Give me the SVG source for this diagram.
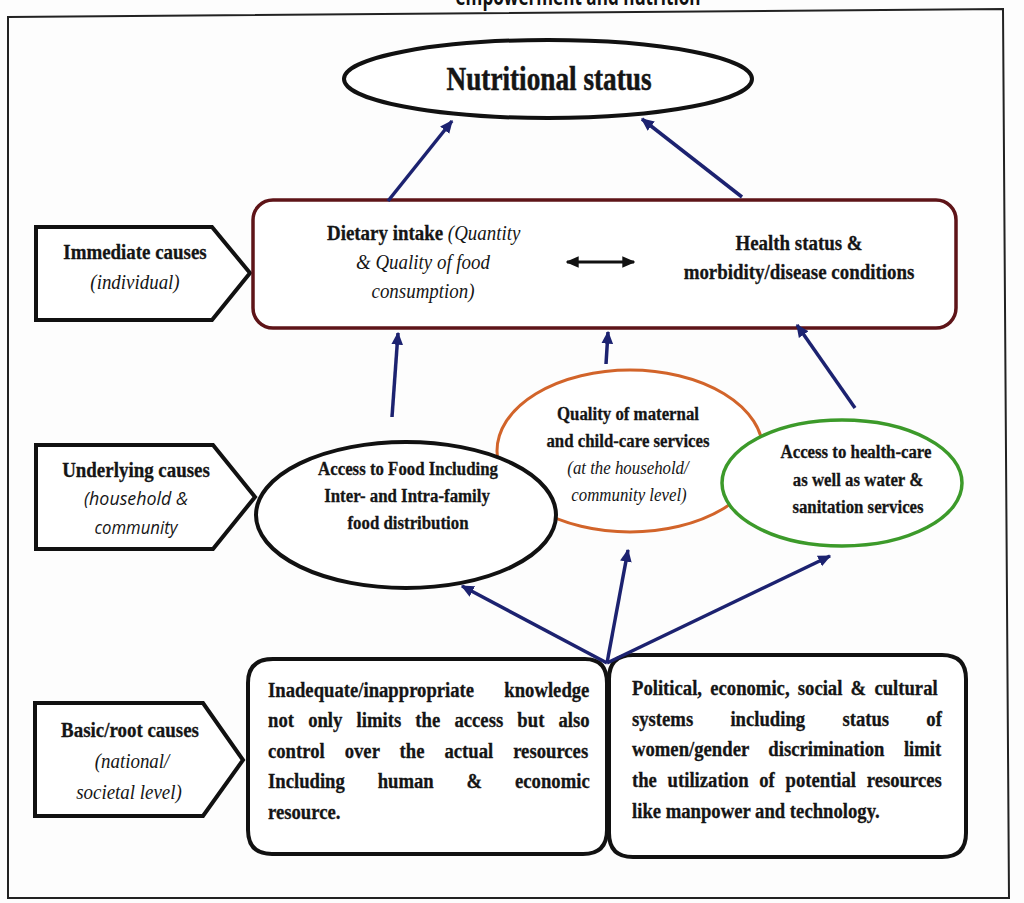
<svg xmlns="http://www.w3.org/2000/svg" width="1024" height="903" viewBox="0 0 1024 903">
<style>
.t{font-family:"Liberation Serif","Times New Roman",serif;font-weight:bold;font-size:21.5px;fill:#151515;stroke:#151515;stroke-width:0.3px}
.it{font-family:"Liberation Serif","Times New Roman",serif;font-style:italic;font-weight:normal;font-size:21.5px;fill:#151515;stroke:none}
.e{font-size:19px}
.big{font-size:33px;stroke-width:0.5px}
.m{text-anchor:middle}
.bx{font-family:"Liberation Serif","Times New Roman",serif;font-weight:bold;font-size:21px;fill:#151515;stroke:#151515;stroke-width:0.3px}
.is{font-family:"Open Sans","Liberation Sans",sans-serif;font-style:italic;font-size:19px;fill:#151515}
.lab{fill:#fff;stroke:#111;stroke-width:4;stroke-linejoin:miter}
.con{stroke:#1c2270;stroke-width:3.5;fill:none;marker-end:url(#ah)}
</style>
<defs>
<marker id="ah" viewBox="0 0 10 10" refX="9" refY="5" markerWidth="13" markerHeight="13" markerUnits="userSpaceOnUse" orient="auto"><path d="M0,0.5 L10,5 L0,9.5 z" fill="#1c2270"/></marker>
<marker id="bh" viewBox="0 0 10 10" refX="9" refY="5" markerWidth="13" markerHeight="13" markerUnits="userSpaceOnUse" orient="auto-start-reverse"><path d="M0,0.5 L10,5 L0,9.5 z" fill="#111"/></marker>
</defs>
<rect width="1024" height="903" fill="#fdfdfd"/>
<text x="578" y="5" text-anchor="middle" font-family="'Open Sans','Liberation Sans',sans-serif" font-weight="bold" font-size="24" fill="#111" textLength="245" lengthAdjust="spacingAndGlyphs">empowerment and nutrition</text>
<path d="M8,17 L1003,9 L1009,898 L8,898 Z" fill="none" stroke="#222" stroke-width="2"/>

<g id="nutritional-status">
<ellipse cx="548" cy="79" rx="204" ry="39" fill="#fff" stroke="#111" stroke-width="4"/>
<text class="t big m" transform="translate(549,90) scale(0.825,1)">Nutritional status</text>
</g>

<g id="immediate-label">
<path class="lab" d="M36,227 L212,227 L250,273 L212,320 L36,320 Z"/>
<text class="t m" transform="translate(135,259) scale(0.88,1)">Immediate causes</text>
<text class="it m" transform="translate(135,289) scale(0.88,1)">(individual)</text>
</g>

<g id="underlying-label">
<path class="lab" d="M36,445 L213,445 L255,497 L213,549 L36,549 Z"/>
<text class="t m" transform="translate(136,477) scale(0.88,1)">Underlying causes</text>
<text class="is" x="136" y="505" text-anchor="middle" textLength="104" lengthAdjust="spacingAndGlyphs">(household &amp;</text>
<text class="is" x="136" y="534" text-anchor="middle" textLength="83" lengthAdjust="spacingAndGlyphs">community</text>
</g>

<g id="basic-label">
<path class="lab" d="M35,703 L203,703 L243,760 L203,816 L35,816 Z"/>
<text class="t m" transform="translate(130,737) scale(0.88,1)">Basic/root causes</text>
<text class="it m" transform="translate(132,768) scale(0.88,1)">(national/</text>
<text class="it m" transform="translate(129,799) scale(0.88,1)">societal level)</text>
</g>

<g id="immediate-causes">
<rect x="253" y="200" width="703" height="128" rx="20" fill="#fff" stroke="#5e1418" stroke-width="3.5"/>
<text class="t" transform="translate(327,240) scale(0.88,1)">Dietary intake <tspan class="it">(Quantity</tspan></text>
<text class="it m" transform="translate(423,269) scale(0.88,1)">&amp; Quality of food</text>
<text class="it m" transform="translate(423,298) scale(0.88,1)">consumption)</text>
<text class="t m" transform="translate(799,250) scale(0.88,1)">Health status &amp;</text>
<text class="t m" transform="translate(799,279) scale(0.88,1)">morbidity/disease conditions</text>
</g>

<g id="maternal-care">
<ellipse cx="630" cy="451" rx="133" ry="81" fill="#fff" stroke="#d2642a" stroke-width="3"/>
<text class="t e m" transform="translate(628,420) scale(0.885,1)">Quality of maternal</text>
<text class="t e m" transform="translate(628,447) scale(0.885,1)">and child-care services</text>
<text class="it e m" transform="translate(628,474) scale(0.885,1)">(at the household/</text>
<text class="it e m" transform="translate(629,501) scale(0.885,1)">community level)</text>
</g>

<g id="access-food">
<ellipse cx="406" cy="515" rx="150" ry="73" fill="#fff" stroke="#111" stroke-width="4"/>
<text class="t e m" transform="translate(408,475) scale(0.885,1)">Access to Food Including</text>
<text class="t e m" transform="translate(407,502) scale(0.885,1)">Inter- and Intra-family</text>
<text class="t e m" transform="translate(408,529) scale(0.885,1)">food distribution</text>
</g>

<g id="access-health">
<ellipse cx="842" cy="483" rx="120" ry="63" fill="#fff" stroke="#3c9a2a" stroke-width="3.5"/>
<text class="t e m" transform="translate(856,458) scale(0.885,1)">Access to health-care</text>
<text class="t e m" transform="translate(858,486) scale(0.885,1)">as well as water &amp;</text>
<text class="t e m" transform="translate(858,513) scale(0.885,1)">sanitation services</text>
</g>

<g id="basic-knowledge">
<path d="M273,659 L585,659 Q607,659 607,683 L607,830 Q607,854 583,854 L272,854 Q248,854 248,830 L248,683 Q248,659 273,659 Z" fill="#fff" stroke="#111" stroke-width="4"/>
<text class="bx" transform="translate(268,697) scale(0.89,1)" word-spacing="28.7">Inadequate/inappropriate knowledge</text>
<text class="bx" transform="translate(268,727) scale(0.89,1)" word-spacing="10.7">not only limits the access but also</text>
<text class="bx" transform="translate(268,758) scale(0.89,1)" word-spacing="17.2">control over the actual resources</text>
<text class="bx" transform="translate(268,788) scale(0.89,1)" word-spacing="31.7">Including human &amp; economic</text>
<text class="bx" transform="translate(268,819) scale(0.89,1)">resource.</text>
</g>

<g id="basic-systems">
<path d="M633,655 L942,655 Q966,655 966,679 L966,833 Q966,857 942,857 L633,857 Q609,857 609,833 L609,679 Q609,655 633,655 Z" fill="#fff" stroke="#111" stroke-width="4"/>
<text class="bx" transform="translate(632,695) scale(0.89,1)" word-spacing="4">Political, economic, social &amp; cultural</text>
<text class="bx" transform="translate(632,726) scale(0.89,1)" word-spacing="36.6">systems including status of</text>
<text class="bx" transform="translate(632,756) scale(0.89,1)" word-spacing="16.6">women/gender discrimination limit</text>
<text class="bx" transform="translate(632,787) scale(0.89,1)" word-spacing="6.8">the utilization of potential resources</text>
<text class="bx" transform="translate(632,818) scale(0.89,1)">like manpower and technology.</text>
</g>

<g id="connectors">
<line class="con" x1="388" y1="201" x2="452" y2="121"/>
<line class="con" x1="742" y1="197" x2="642" y2="119"/>
<line x1="567" y1="262" x2="634" y2="262" stroke="#111" stroke-width="3" marker-start="url(#bh)" marker-end="url(#bh)"/>
<line class="con" x1="392" y1="417" x2="398" y2="333"/>
<line class="con" x1="606" y1="364" x2="608" y2="332"/>
<line class="con" x1="855" y1="408" x2="797" y2="325"/>
<line class="con" x1="607" y1="663" x2="462" y2="586"/>
<line class="con" x1="607" y1="663" x2="628" y2="550"/>
<line class="con" x1="607" y1="663" x2="830" y2="556"/>
</g>
</svg>
